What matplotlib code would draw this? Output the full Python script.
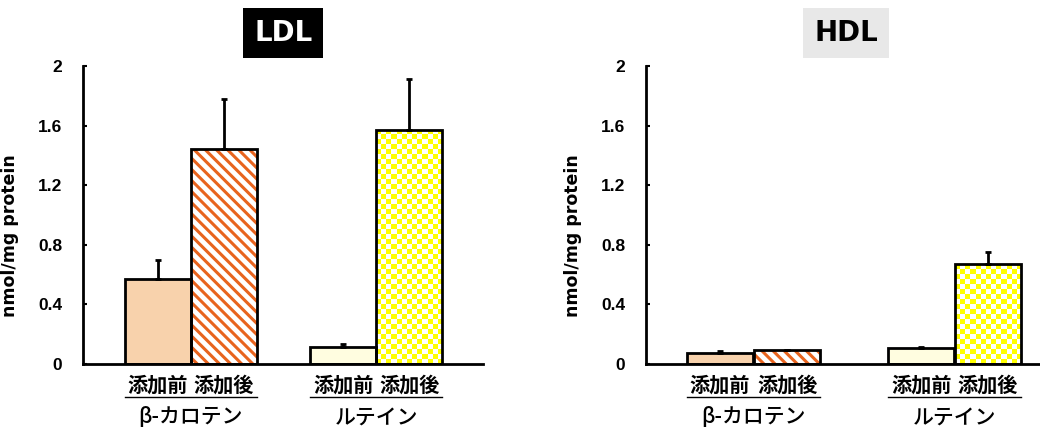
import numpy as np
import matplotlib.pyplot as plt
import matplotlib.transforms as mtransforms
from matplotlib.colors import ListedColormap

plt.rcParams['font.family'] = ['Noto Sans CJK JP', 'DejaVu Sans']
plt.rcParams['hatch.linewidth'] = 2.2

# data
conditions = ['添加前', '添加後', '添加前', '添加後']
groups = ['β-カロテン', 'ルテイン']
ldl_values = [0.57, 1.44, 0.115, 1.57]
ldl_err = [0.13, 0.34, 0.02, 0.34]
hdl_values = [0.075, 0.095, 0.105, 0.67]
hdl_err = [0.01, 0.0, 0.01, 0.08]
yticks = [0, 0.4, 0.8, 1.2, 1.6, 2]
ytick_labels = ['0', '0.4', '0.8', '1.2', '1.6', '2']

fig = plt.figure(figsize=(10.4, 4.34), dpi=100)
ax1 = fig.add_axes([0.0798, 0.161, 0.385, 0.687])
ax2 = fig.add_axes([0.621, 0.161, 0.385, 0.687])


def checker(ax, rect, cell=5):
    # yellow/white checkerboard clipped to the bar
    x0, w, h = rect.get_x(), rect.get_width(), rect.get_height()
    p0 = ax.transData.transform((x0, 0))
    p1 = ax.transData.transform((x0 + w, h))
    nx = max(1, int(round(abs(p1[0] - p0[0]) / cell)))
    ny = max(1, int(round(abs(p1[1] - p0[1]) / cell)))
    img = np.indices((ny, nx)).sum(axis=0) % 2
    im = ax.imshow(img, cmap=ListedColormap(['#ffff00', 'white']),
                   extent=[x0, x0 + w, 0, h], aspect='auto',
                   interpolation='nearest', zorder=1)
    im.set_clip_path(rect)


def panel(ax, pos, values, err, title, tcolor, bcolor):
    ax.set_ylim(0, 2)
    ax.set_xlim(0, 6.06)
    bars = ax.bar(pos, values, width=1.0, color=['#f8d2ac', 'white', '#fffde0', 'white'],
                  edgecolor='none', linewidth=0, zorder=1)
    bars[1].set_hatch('\\\\\\')
    bars[1].set_edgecolor('#e8641e')
    checker(ax, bars[3])
    ax.bar(pos, values, width=1.0, fill=False, edgecolor='black', linewidth=2, zorder=3)
    ax.errorbar(pos, values, yerr=[[0] * 4, err], fmt='none', ecolor='black',
                elinewidth=2, capsize=2, capthick=2, zorder=2)
    ax.spines['top'].set_visible(False)
    ax.spines['right'].set_visible(False)
    ax.spines['left'].set_linewidth(2)
    ax.spines['bottom'].set_linewidth(2)
    ax.set_xticks([])
    ax.set_yticks(yticks)
    ax.set_yticklabels(ytick_labels, fontfamily='Liberation Sans', fontweight='bold', fontsize=12.5)
    ax.tick_params(axis='y', direction='in', length=3, width=1.5, pad=15)
    ax.set_ylabel('nmol/mg protein', fontfamily='DejaVu Sans', fontweight='bold', fontsize=12.5)
    ax.yaxis.set_label_coords(-0.16, 0.43)
    trans = mtransforms.blended_transform_factory(ax.transData, ax.transAxes)
    for p, c in zip(pos, conditions):
        ax.text(p, -0.07, c, transform=trans, ha='center', va='center',
                fontsize=14.5, fontweight='bold')
    for i, g in enumerate(groups):
        a, b = pos[2 * i] - 0.5, pos[2 * i + 1] + 0.5
        ax.plot([a, b], [-0.11, -0.11], color='black', lw=1, transform=trans, clip_on=False)
        ax.text((a + b) / 2, -0.178, g, transform=trans, ha='center', va='center',
                fontsize=15, fontweight='medium')
    ax.text(0.5, 1.11, title, transform=ax.transAxes, ha='center', va='center',
            fontsize=20, fontweight='bold', color=tcolor, fontfamily='DejaVu Sans',
            bbox=dict(boxstyle='square,pad=0.4', facecolor=bcolor, edgecolor='none'))


panel(ax1, [1.13, 2.13, 3.94, 4.94], ldl_values, ldl_err, 'LDL', 'white', 'black')
panel(ax2, [1.12, 2.14, 4.17, 5.18], hdl_values, hdl_err, 'HDL', 'black', '#e8e8e8')

fig.savefig('out.png', dpi=100)
